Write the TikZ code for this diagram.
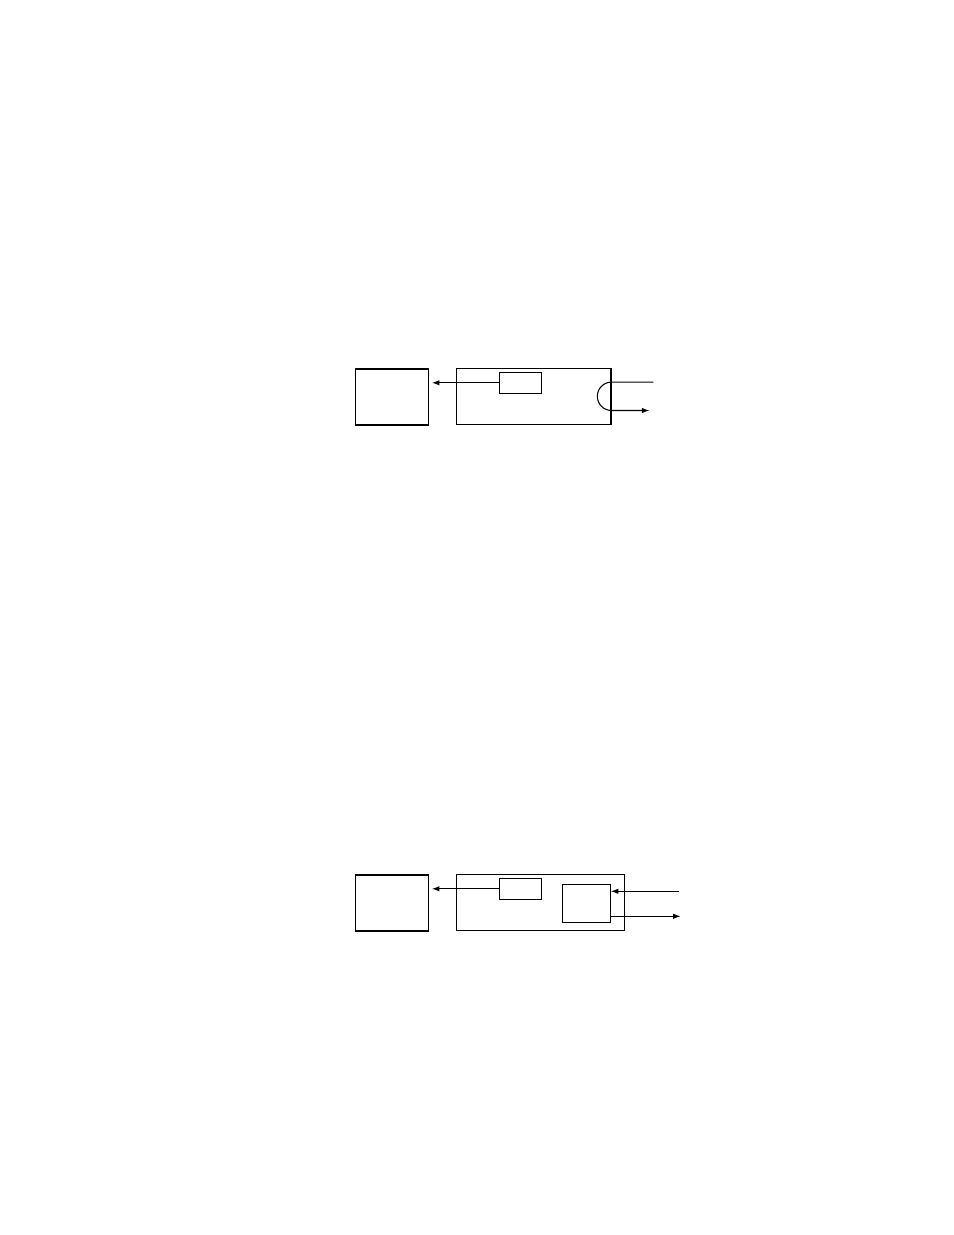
\documentclass[tikz,border=0pt]{standalone}
\usetikzlibrary{arrows.meta}

\begin{document}
\begin{tikzpicture}[line width=0.6pt]
            \tikzset{box/.style 2 args={draw, rectangle, inner sep=0pt, minimum width=#1 cm, minimum height=#2 cm}};
            \tikzset{sig/.style={-{Latex[length=1.5mm,width=1.1mm]}}};
            \useasboundingbox (0,0) rectangle (19.08,24.7);
            
            \node[box={1.452}{1.12}] (hostA) at (7.84,16.76) {};
            \node[box={3.094}{1.12}] (bigA) at (10.673,16.774) {};
            \node[box={0.84}{0.42}] (smallA) at (10.406,17.044) {};
            
            \coordinate (inA) at (13.066,17.058);
            \coordinate (outA) at (12.986,16.490);
            
            \draw[sig, shorten >=1.8pt] (smallA.west) -- (hostA.east |- smallA.west);
            \draw[sig] (inA) -- (bigA.east |- inA) arc (90:270:0.284cm) -- (outA);
            
            \node[box={1.452}{1.12}] (hostB) at (7.84,6.64) {};
            \node[box={3.36}{1.12}] (bigB) at (10.806,6.654) {};
            \node[box={0.84}{0.42}] (smallB) at (10.406,6.924) {};
            \node[box={0.96}{0.76}] (portB) at (11.726,6.634) {};
            
            \coordinate (inB) at (13.58,6.874);
            \coordinate (outB) at (13.614,6.374);
            
            \draw[sig, shorten >=1.8pt] (smallB.west) -- (hostB.east |- smallB.west);
            \draw[sig] (inB) -- (portB.east |- inB);
            \draw[sig] (portB.east |- outB) -- (outB);
\end{tikzpicture}
\end{document}
